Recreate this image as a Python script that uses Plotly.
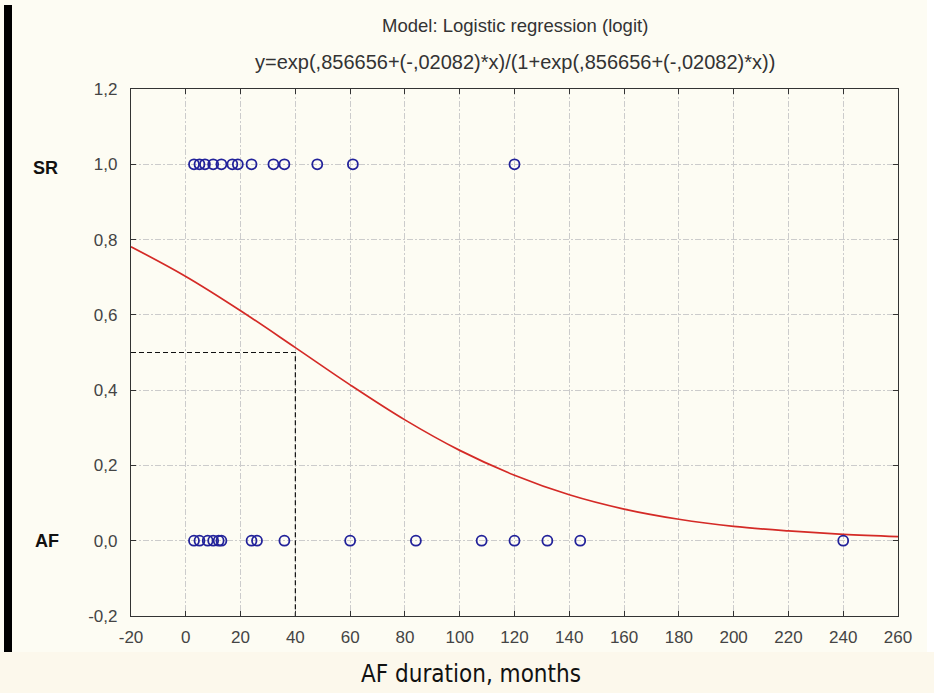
import plotly.graph_objects as go

# ---------------- data ----------------
sr_months = [3, 5, 7, 10, 13, 17, 19, 24, 32, 36, 48, 61, 120]
af_months = [3, 5, 8, 10, 12, 13, 24, 26, 36, 60, 84, 108, 120, 132, 144, 240]

curve_x = [-20, 0, 20, 40, 60, 80, 100, 120, 140, 160, 180, 200, 220, 240, 260]
curve_y = [0.781, 0.702, 0.611, 0.513, 0.414, 0.321, 0.240, 0.174, 0.122, 0.084,
           0.057, 0.038, 0.026, 0.017, 0.011]

cut_x = 40
cut_y = 0.5

x_ticks = [-20, 0, 20, 40, 60, 80, 100, 120, 140, 160, 180, 200, 220, 240, 260]
x_tick_text = ["-20", "0", "20", "40", "60", "80", "100", "120", "140", "160",
               "180", "200", "220", "240", "260"]
y_ticks = [-0.2, 0.0, 0.2, 0.4, 0.6, 0.8, 1.0, 1.2]
y_tick_text = ["-0,2", "0,0", "0,2", "0,4", "0,6", "0,8", "1,0", "1,2"]

title1 = "Model: Logistic regression (logit)"
title2 = "y=exp(,856656+(-,02082)*x)/(1+exp(,856656+(-,02082)*x))"
x_title = "AF duration, months"

# ---------------- layout geometry ----------------
W, H = 934, 693
L, R, T, B = 131, 36, 89, 77
PW, PH = W - L - R, H - T - B


def px(xp):
    return (xp - L) / PW


def py(yp):
    return (H - B - yp) / PH


fig = go.Figure()

fig.add_trace(go.Scatter(
    x=curve_x, y=curve_y, mode="lines", line=dict(color="#d42a26", width=1.7, shape="spline"),
    hoverinfo="skip", showlegend=False))

fig.add_trace(go.Scatter(
    x=[-20, cut_x, cut_x], y=[cut_y, cut_y, -0.2], mode="lines",
    line=dict(color="#111111", width=1.2, dash="5px,3px"), showlegend=False))

fig.add_trace(go.Scatter(
    x=sr_months, y=[1.0] * len(sr_months), mode="markers",
    marker=dict(symbol="circle-open", size=10, color="#22229a", line=dict(width=1.8)),
    showlegend=False))
fig.add_trace(go.Scatter(
    x=af_months, y=[0.0] * len(af_months), mode="markers",
    marker=dict(symbol="circle-open", size=10, color="#22229a", line=dict(width=1.8)),
    showlegend=False))

axis_common = dict(
    showline=True, linecolor="#333333", linewidth=1.2, mirror="ticks",
    ticks="inside", ticklen=5, tickcolor="#333333",
    showgrid=True, gridcolor="#cccccc", griddash="6px,2px,2px,2px", gridwidth=1,
    zeroline=False,
    tickfont=dict(family="Liberation Sans, Arial", size=17, color="#444444"),
)

fig.update_xaxes(range=[-20, 260], tickvals=x_ticks, ticktext=x_tick_text,
                 ticklabelstandoff=5, **axis_common)
fig.update_yaxes(range=[-0.2, 1.2], tickvals=y_ticks, ticktext=y_tick_text,
                 ticklabelstandoff=9, **axis_common)

shapes = [
    # cream background of main panel
    dict(type="rect", xref="paper", yref="paper", x0=px(0), x1=px(927), y0=py(652), y1=py(0),
         fillcolor="#fdfcf3", line=dict(width=0), layer="below"),
    # bottom strip
    dict(type="rect", xref="paper", yref="paper", x0=px(0), x1=px(W), y0=py(H), y1=py(652),
         fillcolor="#fcf8ec", line=dict(width=0), layer="below"),
    # left black bar
    dict(type="rect", xref="paper", yref="paper", x0=px(4), x1=px(12), y0=py(652), y1=py(5),
         fillcolor="#000000", line=dict(width=0), layer="below"),
]

annotations = [
    dict(text=title1, x=px(515), y=py(26), xref="paper", yref="paper", showarrow=False,
         font=dict(family="Liberation Sans, Arial", size=18.5, color="#333333"),
         xanchor="center", yanchor="middle"),
    dict(text=title2, x=px(515), y=py(62), xref="paper", yref="paper", showarrow=False,
         font=dict(family="Liberation Sans, Arial", size=20, color="#333333"),
         xanchor="center", yanchor="middle"),
    dict(text="<b>SR</b>", x=px(45), y=py(168), xref="paper", yref="paper", showarrow=False,
         font=dict(family="Liberation Sans, Arial", size=18, color="#111111"),
         xanchor="center", yanchor="middle"),
    dict(text="<b>AF</b>", x=px(47), y=py(541), xref="paper", yref="paper", showarrow=False,
         font=dict(family="Liberation Sans, Arial", size=18, color="#111111"),
         xanchor="center", yanchor="middle"),
    dict(text=x_title, x=px(471), y=py(674), xref="paper", yref="paper", showarrow=False,
         font=dict(family="DejaVu Sans Condensed, DejaVu Sans", size=24, color="#111111"),
         xanchor="center", yanchor="middle"),
]

fig.update_layout(
    width=W, height=H,
    margin=dict(l=L, r=R, t=T, b=B, pad=0),
    paper_bgcolor="#ffffff", plot_bgcolor="#ffffff",
    shapes=shapes, annotations=annotations,
    showlegend=False,
)

fig.write_html("out.html")
